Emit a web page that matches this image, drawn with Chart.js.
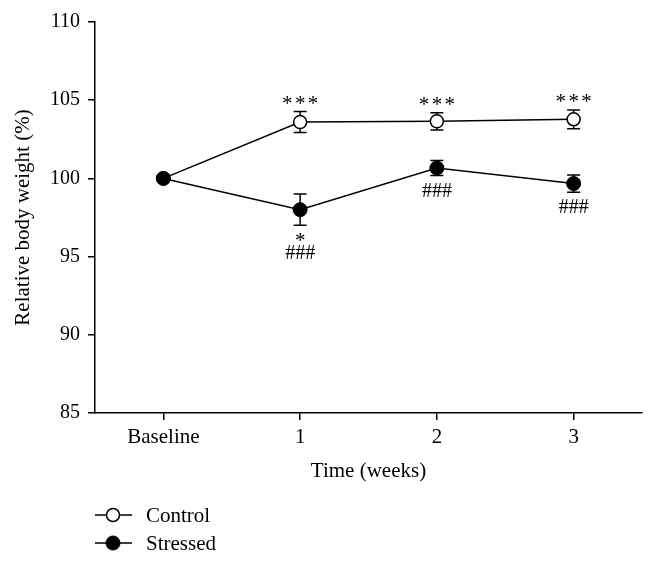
<!DOCTYPE html>
<html><head><meta charset="utf-8">
<script src="https://cdn.jsdelivr.net/npm/chart.js@4"></script>
<style>html,body{margin:0;padding:0;background:#fff}#wrap{width:654px;height:565px}</style>
</head><body><div id="wrap"><canvas id="c" width="654" height="565"></canvas></div>
<script>
const categories = ['Baseline', '1', '2', '3'];
const controlMean = [100, 103.6, 103.65, 103.78];
const controlSEM = [0, 0.67, 0.55, 0.6];
const stressedMean = [100, 98.0, 100.66, 99.67];
const stressedSEM = [0, 1.0, 0.48, 0.55];
const yTicks = [85, 90, 95, 100, 105, 110];
const controlMarks = ['', '***', '***', '***'];
const stressedMarks = [[], ['*', '###'], ['###'], ['###']];

const FONT = "'Liberation Serif', 'DejaVu Serif', serif";

const errorBars = {
  id: 'errorBars',
  beforeDatasetsDraw(chart) {
    const ctx = chart.ctx, y = chart.scales.y;
    chart.data.datasets.forEach((ds, i) => {
      const meta = chart.getDatasetMeta(i);
      ctx.save();
      ctx.strokeStyle = '#000';
      ctx.lineWidth = 1.5;
      ds.errors.forEach((e, j) => {
        if (!e) return;
        const x = meta.data[j].x;
        const t = y.getPixelForValue(ds.data[j] + e);
        const b = y.getPixelForValue(ds.data[j] - e);
        ctx.beginPath();
        ctx.moveTo(x, t); ctx.lineTo(x, b);
        ctx.moveTo(x - 6.5, t); ctx.lineTo(x + 6.5, t);
        ctx.moveTo(x - 6.5, b); ctx.lineTo(x + 6.5, b);
        ctx.stroke();
      });
      ctx.restore();
    });
  }
};

const annotations = {
  id: 'annotations',
  afterDatasetsDraw(chart) {
    const ctx = chart.ctx, y = chart.scales.y;
    ctx.save();
    ctx.fillStyle = '#000';
    ctx.textAlign = 'center';
    ctx.textBaseline = 'alphabetic';
    const cMeta = chart.getDatasetMeta(1);
    ctx.font = '21px ' + FONT;
    controlMarks.forEach((m, j) => {
      if (!m) return;
      const x = cMeta.data[j].x;
      const t = y.getPixelForValue(controlMean[j] + controlSEM[j]);
      const n = m.length;
      for (let k = 0; k < n; k++) {
        ctx.fillText(m[k], x + (k - (n - 1) / 2) * 12.8, t - 2);
      }
    });
    ctx.font = '20px ' + FONT;
    const sMeta = chart.getDatasetMeta(0);
    stressedMarks.forEach((lines, j) => {
      if (!lines.length) return;
      const x = sMeta.data[j].x;
      const b = y.getPixelForValue(stressedMean[j] - stressedSEM[j]);
      if (lines.length === 1) {
        ctx.fillText(lines[0], x, b + 21);
      } else {
        ctx.font = '21px ' + FONT;
        ctx.fillText(lines[0], x, b + 21.5);
        ctx.font = '20px ' + FONT;
        ctx.fillText(lines[1], x, b + 33.5);
      }
    });
    ctx.restore();
  }
};

const customLegend = {
  id: 'customLegend',
  afterDraw(chart) {
    const ctx = chart.ctx;
    const left = chart.chartArea.left;
    const base = chart.chartArea.bottom;
    const items = [chart.data.datasets[1], chart.data.datasets[0]];
    ctx.save();
    items.forEach((ds, k) => {
      const yy = base + 102 + k * 28;
      ctx.strokeStyle = '#000';
      ctx.lineWidth = 1.5;
      ctx.beginPath();
      ctx.moveTo(left, yy); ctx.lineTo(left + 37, yy);
      ctx.stroke();
      ctx.beginPath();
      ctx.arc(left + 18, yy, ds.pointRadius, 0, Math.PI * 2);
      ctx.fillStyle = ds.pointBackgroundColor;
      ctx.fill();
      ctx.lineWidth = ds.pointBorderWidth;
      ctx.stroke();
      ctx.fillStyle = '#000';
      ctx.font = '21px ' + FONT;
      ctx.textAlign = 'left';
      ctx.textBaseline = 'middle';
      ctx.fillText(ds.label, left + 51, yy + 1);
    });
    ctx.restore();
  }
};

new Chart(document.getElementById('c'), {
  type: 'line',
  data: {
    labels: categories,
    datasets: [
      {
        label: 'Stressed', data: stressedMean, errors: stressedSEM,
        borderColor: '#000', borderWidth: 1.5,
        pointRadius: 7, pointBackgroundColor: '#000', pointBorderColor: '#000', pointBorderWidth: 1,
        order: 0
      },
      {
        label: 'Control', data: controlMean, errors: controlSEM,
        borderColor: '#000', borderWidth: 1.5,
        pointRadius: 6.5, pointBackgroundColor: '#fff', pointBorderColor: '#000', pointBorderWidth: 1.5,
        order: 1
      }
    ]
  },
  options: {
    responsive: false,
    animation: false,
    devicePixelRatio: 1,
    layout: { padding: { top: 22, right: 12, bottom: 81, left: 0 } },
    plugins: { legend: { display: false }, tooltip: { enabled: false } },
    scales: {
      x: {
        type: 'category',
        offset: true,
        grid: { display: true, drawOnChartArea: false, drawTicks: true, tickLength: 7, color: '#000', lineWidth: 1.5 },
        border: { display: true, color: '#000', width: 1.5 },
        ticks: { color: '#000', font: { family: FONT, size: 21 }, padding: 5, maxRotation: 0 },
        title: { display: true, text: 'Time (weeks)', color: '#000', font: { family: FONT, size: 21 }, padding: { top: 0, bottom: 0 } },
        afterFit(s) { s.height = 71; }
      },
      y: {
        min: 85, max: 110,
        afterBuildTicks(s) { s.ticks = yTicks.map(v => ({ value: v })); },
        grid: { display: true, drawOnChartArea: false, drawTicks: true, tickLength: 7, color: '#000', lineWidth: 1.5 },
        border: { display: true, color: '#000', width: 1.5 },
        ticks: { color: '#000', font: { family: FONT, size: 20 }, padding: 8 },
        title: { display: true, text: 'Relative body weight (%)', color: '#000', font: { family: FONT, size: 21 }, padding: { top: 11, bottom: 0 } },
        afterFit(s) { s.width = 95; }
      }
    }
  },
  plugins: [errorBars, annotations, customLegend]
});
</script>
</body></html>
